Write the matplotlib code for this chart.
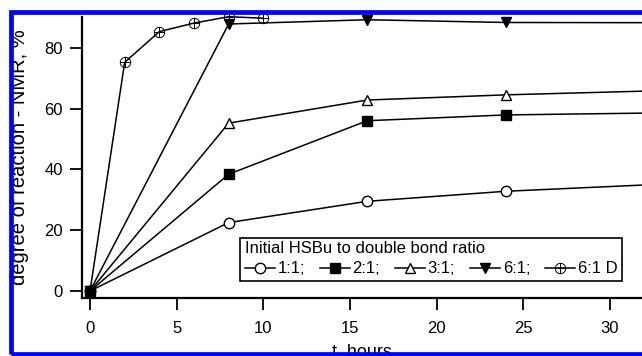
import matplotlib
matplotlib.use("Agg")
import matplotlib.pyplot as plt
from matplotlib.path import Path
from matplotlib.patches import Rectangle

plt.rcParams.update({
    "font.family": ["Liberation Sans", "DejaVu Sans"],
    "font.size": 12,
})

# Datos
t_main = [0, 8, 16, 24, 48]
r_1_1 = [0, 22.5, 29.5, 32.8, 39.0]
r_2_1 = [0, 38.4, 56.0, 57.9, 59.7]
r_3_1 = [0, 55.2, 62.8, 64.5, 68.2]
r_6_1 = [0, 87.8, 89.2, 88.3, 88.1]

t_6_1d = [0, 2, 4, 6, 8, 10]
r_6_1d = [0, 75.2, 85.3, 88.1, 90.2, 89.7]

labels = ["1:1;", "2:1;", "3:1;", "6:1;", "6:1 D"]
x_ticks = [0, 5, 10, 15, 20, 25, 30]
y_ticks = [0, 20, 40, 60, 80]

# círculo con cruz
circ_plus = Path.make_compound_path(
    Path.unit_circle(),
    Path([[-1, 0], [1, 0]], [Path.MOVETO, Path.LINETO]),
    Path([[0, -1], [0, 1]], [Path.MOVETO, Path.LINETO]),
)

W, H = 642, 356
fig = plt.figure(figsize=(W / 100, H / 100), dpi=100)
ax = fig.add_axes([81.7 / W, 1 - 298.3 / H, (W - 81.7) / W, (298.3 - 16.7) / H])

kw = dict(color="black", linewidth=1.1, markersize=7.5, markeredgewidth=1.0, clip_on=False)
ax.plot(t_main, r_1_1, marker="o", markerfacecolor="white", label=labels[0], **kw)
ax.plot(t_main, r_3_1, marker="^", markerfacecolor="white", label=labels[2], **kw)
ax.plot(t_main, r_6_1, marker="v", markerfacecolor="black", label=labels[3], **kw)
ax.plot(t_6_1d, r_6_1d, marker=circ_plus, markerfacecolor="none", label=labels[4],
        color="black", linewidth=1.1, markersize=7.5, markeredgewidth=0.7, clip_on=False)
ax.plot(t_main, r_2_1, marker="s", markerfacecolor="black", label=labels[1], **kw)

ax.set_xlim(-0.48, 31.85)
ax.set_ylim(-2.4, 90.2)
ax.set_xticks(x_ticks)
ax.set_yticks(y_ticks)
ax.spines["top"].set_visible(False)
ax.spines["right"].set_visible(False)
for s in ["left", "bottom"]:
    ax.spines[s].set_linewidth(1.6)
ax.tick_params(axis="both", direction="out", length=8.5, width=1.3, labelsize=12)
ax.tick_params(axis="x", pad=8)
ax.tick_params(axis="y", pad=5)

ax.set_xlabel("t, hours", fontsize=13, labelpad=5)
ax.set_ylabel("degree of reaction - NMR, %", fontsize=14.5, labelpad=11)

handles, labs = ax.get_legend_handles_labels()
order = [labs.index(l) for l in labels]
leg = ax.legend([handles[i] for i in order], [labs[i] for i in order],
                title="Initial HSBu to double bond ratio", title_fontsize=12,
                ncol=5, loc="upper left", bbox_to_anchor=(240 / W, 1 - 238 / H),
                bbox_transform=fig.transFigure, alignment="left",
                handlelength=1.8, handletextpad=0.15, columnspacing=0.9,
                borderpad=0.3, borderaxespad=0, fancybox=False, framealpha=1,
                edgecolor="black", fontsize=12, labelspacing=0.2)
leg.get_frame().set_linewidth(1.2)
leg.get_title().set_y(2)

# marco azul
fig.patches.append(Rectangle((11.3 / W, 1 - 353.5 / H), 1.2, (353.5 - 11.8) / H,
                             transform=fig.transFigure, fill=False,
                             edgecolor="#0000ff", linewidth=3.4, zorder=10))

fig.savefig("out.png", dpi=100)
